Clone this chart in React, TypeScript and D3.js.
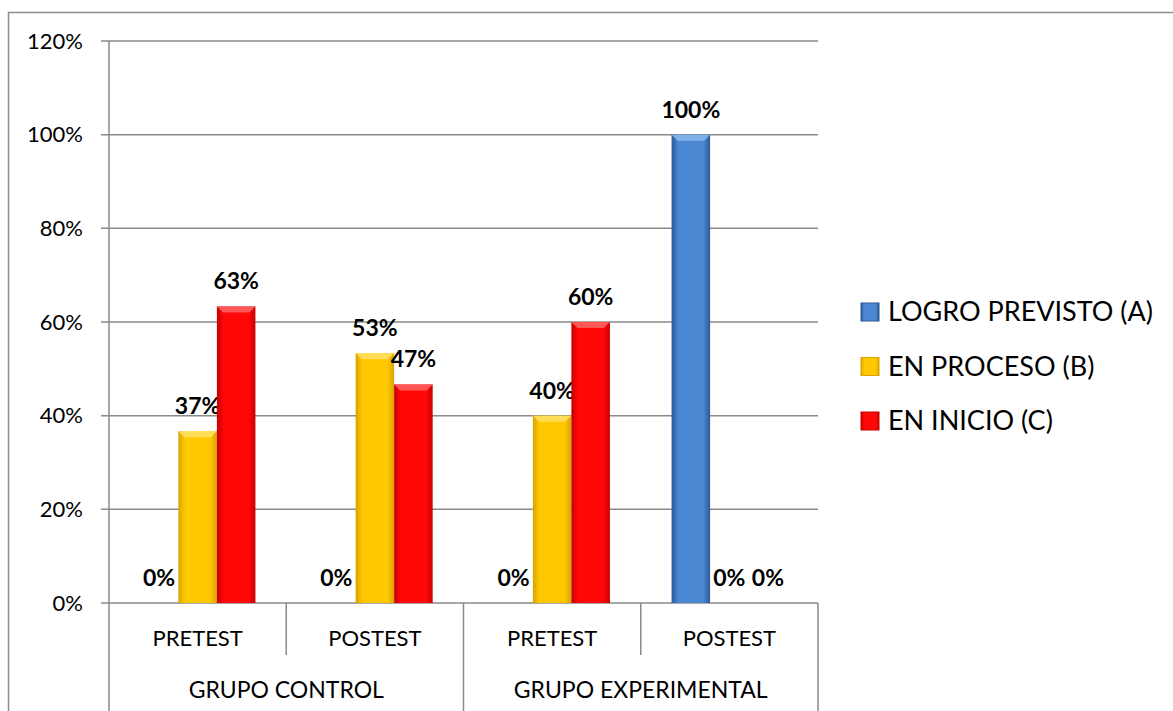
import React, { useEffect, useRef } from "react";
import * as d3 from "d3";

const settings = {
  width: 1173,
  height: 711,
  margin: { top: 41, right: 355, bottom: 108, left: 109 },
};

const groups: string[] = ["GRUPO CONTROL", "GRUPO EXPERIMENTAL"];
const tests: string[] = ["PRETEST", "POSTEST", "PRETEST", "POSTEST"];
const seriesNames: string[] = ["LOGRO PREVISTO (A)", "EN PROCESO (B)", "EN INICIO (C)"];
const logro: number[] = [0, 0, 0, 100];
const proceso: number[] = [36.67, 53.33, 40, 0];
const inicio: number[] = [63.33, 46.67, 60, 0];
const yTicks: number[] = [0, 20, 40, 60, 80, 100, 120];

const colors = [
  { mid: "#4a88d4", edge: "#2c5b97", top: "#8fbcef" },
  { mid: "#ffc800", edge: "#d9a300", top: "#ffe36a" },
  { mid: "#ff0808", edge: "#c80000", top: "#ff6a6a" },
];

const FONT = "Lato, 'Open Sans', sans-serif";

export default function App() {
  const svgRef = useRef(null);
  useEffect(() => {
    const svg = d3.select(svgRef.current);
    svg.selectAll("*").remove();
    const { width, height, margin } = settings;
    const left = margin.left;
    const right = width - margin.right;
    const bottom = height - margin.bottom;

    const defs = svg.append("defs");
    colors.forEach((c, i) => {
      const g = defs.append("linearGradient").attr("id", `bar${i}`).attr("x1", 0).attr("x2", 1).attr("y1", 0).attr("y2", 0);
      g.append("stop").attr("offset", "0%").attr("stop-color", c.edge);
      g.append("stop").attr("offset", "18%").attr("stop-color", c.mid);
      g.append("stop").attr("offset", "82%").attr("stop-color", c.mid);
      g.append("stop").attr("offset", "100%").attr("stop-color", c.edge);
    });

    // outer chart border
    svg.append("rect").attr("x", 8.5).attr("y", 12.5).attr("width", 1180).attr("height", 720)
      .attr("fill", "white").attr("stroke", "#8c8c8c").attr("stroke-width", 1.5);

    const idx = tests.map((_, i) => String(i));
    const x = d3.scaleBand().domain(idx).range([left, right]).paddingInner(0).paddingOuter(0);
    const xs = d3.scaleBand().domain(["0", "1", "2"]).range([0, x.bandwidth()]).paddingInner(0).paddingOuter(0.8);
    const y = d3.scaleLinear().domain([0, 120]).range([bottom, margin.top]);

    // gridlines
    svg.append("g").selectAll("line").data(yTicks).join("line")
      .attr("x1", left - 8).attr("x2", right)
      .attr("y1", (d) => y(d)).attr("y2", (d) => y(d))
      .attr("stroke", "#8a8a8a").attr("stroke-width", 1.5);

    // y axis line
    svg.append("line").attr("x1", left).attr("x2", left).attr("y1", margin.top).attr("y2", bottom)
      .attr("stroke", "#8a8a8a").attr("stroke-width", 1.5);

    svg.append("g").selectAll("text").data(yTicks).join("text")
      .attr("x", left - 26).attr("y", (d) => y(d)).attr("dy", "0.35em")
      .attr("text-anchor", "end").attr("font-family", FONT).attr("font-size", 22).attr("fill", "#000")
      .text((d) => `${d}%`);

    // category axis dividers
    const dividers = d3.range(tests.length + 1);
    svg.append("g").selectAll("line").data(dividers).join("line")
      .attr("x1", (d) => left + d * x.bandwidth()).attr("x2", (d) => left + d * x.bandwidth())
      .attr("y1", bottom).attr("y2", (d) => (d % 2 === 0 ? height : bottom + 52))
      .attr("stroke", "#8a8a8a").attr("stroke-width", 1.5);

    svg.append("g").selectAll("text").data(tests).join("text")
      .attr("x", (_, i) => (x(String(i)) || 0) + x.bandwidth() / 2).attr("y", bottom + 43)
      .attr("text-anchor", "middle").attr("font-family", FONT).attr("font-size", 22).attr("fill", "#000")
      .text((d) => d);

    svg.append("g").selectAll("text").data(groups).join("text")
      .attr("x", (_, i) => left + (i * 2 + 1) * x.bandwidth()).attr("y", bottom + 95)
      .attr("text-anchor", "middle").attr("font-family", FONT).attr("font-size", 23).attr("fill", "#000")
      .text((d) => d);

    // bars
    const seriesData = [logro, proceso, inicio];
    seriesData.forEach((vals, s) => {
      const g = svg.append("g");
      const bw = xs.bandwidth();
      const bx = (i: number) => (x(String(i)) || 0) + (xs(String(s)) || 0);
      const nonZero = vals.map((v, i) => ({ v, i })).filter((d) => d.v > 0);
      g.selectAll("rect").data(nonZero).join("rect")
        .attr("x", (d) => bx(d.i)).attr("y", (d) => y(d.v))
        .attr("width", bw).attr("height", (d) => y(0) - y(d.v))
        .attr("fill", `url(#bar${s})`);
      g.selectAll("path").data(nonZero).join("path")
        .attr("d", (d) => {
          const x0 = bx(d.i), y0 = y(d.v);
          return `M${x0},${y0}L${x0 + bw},${y0}L${x0 + bw - 6},${y0 + 6}L${x0 + 6},${y0 + 6}Z`;
        })
        .attr("fill", colors[s].top).attr("opacity", 0.8);
      g.selectAll("text").data(vals.map((v, i) => ({ v, i }))).join("text")
        .attr("x", (d) => bx(d.i) + bw / 2).attr("y", (d) => y(d.v) - 17)
        .attr("text-anchor", "middle").attr("font-family", FONT).attr("font-weight", "bold")
        .attr("font-size", 23).attr("fill", "#000")
        .text((d) => `${Math.round(d.v)}%`);
    });

    // legend
    const legend = svg.append("g").attr("transform", "translate(861,312)");
    seriesNames.forEach((name, i) => {
      const row = legend.append("g").attr("transform", `translate(0,${i * 54.5})`);
      row.append("rect").attr("x", 0).attr("y", -9).attr("width", 18).attr("height", 18)
        .attr("fill", `url(#bar${i})`).attr("stroke", colors[i].edge).attr("stroke-width", 1);
      row.append("text").attr("x", 27).attr("y", 0).attr("dy", "0.35em")
        .attr("font-family", FONT).attr("font-size", 27).attr("fill", "#000").text(name);
    });
  }, []);

  return (
    <svg
      ref={svgRef}
      width={settings.width}
      height={settings.height}
      style={{ position: "absolute", left: 0, top: 0, display: "block" }}
    ></svg>
  );
}
